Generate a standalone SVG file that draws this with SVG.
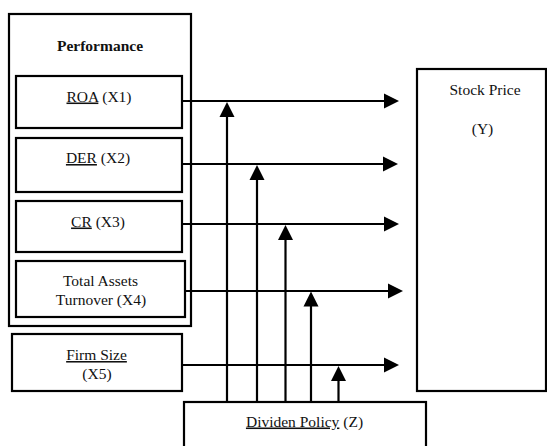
<svg xmlns="http://www.w3.org/2000/svg" width="547" height="446" viewBox="0 0 547 446" font-family="Liberation Serif, serif">
  <defs>
    <style>
      .box { fill: #fff; stroke: #000; stroke-width: 2.2; }
      .lbl { font-size: 15.5px; fill: #111; text-anchor: middle; }
      .bold { font-weight: bold; }
      .u { text-decoration: underline; }
      .wire { fill: none; stroke: #000; stroke-width: 2.2; }
      .head { fill: #000; }
    </style>
  </defs>
  <rect width="547" height="446" fill="#fff"/>

  <g id="performance">
    <rect class="box" x="9" y="14" width="182" height="312"/>
    <text class="lbl bold" x="100" y="50.5">Performance</text>
  </g>

  <g id="roa">
    <rect class="box" x="16" y="76" width="166" height="52"/>
    <text class="lbl" x="99" y="101.5"><tspan class="u"> ROA</tspan> (X1)</text>
  </g>

  <g id="der">
    <rect class="box" x="16" y="138" width="166" height="54"/>
    <text class="lbl" x="98" y="163"><tspan class="u">DER</tspan> (X2)</text>
  </g>

  <g id="cr">
    <rect class="box" x="16" y="201" width="166" height="51"/>
    <text class="lbl" x="98" y="226.5"><tspan class="u">CR</tspan> (X3)</text>
  </g>

  <g id="tat">
    <rect class="box" x="16" y="261" width="169" height="56"/>
    <text class="lbl" x="100.5" y="285.5">Total Assets</text>
    <text class="lbl" x="101" y="305">Turnover (X4)</text>
  </g>

  <g id="firm-size">
    <rect class="box" x="12" y="334" width="170" height="57"/>
    <text class="lbl" x="96.5" y="360"><tspan class="u">Firm Size</tspan></text>
    <text class="lbl" x="97" y="378.5">(X5)</text>
  </g>

  <g id="stock-price">
    <rect class="box" x="417" y="69" width="129" height="322"/>
    <text class="lbl" x="485" y="95">Stock Price</text>
    <text class="lbl" x="482.5" y="134">(Y)</text>
  </g>

  <g id="dividend-policy">
    <rect class="box" x="184" y="402" width="242" height="60"/>
    <text class="lbl" x="304.5" y="426.5"><tspan class="u">Dividen Policy</tspan> (Z)</text>
  </g>

  <g id="connectors">
    <!-- horizontal paths to Stock Price -->
    <path class="wire" d="M182 101 H385 M182 164 H384 M182 224 H385 M185 291 H389 M182 365 H385"/>
    <path class="head" d="M384 93.5 L399 101 L384 108.5 Z"/>
    <path class="head" d="M383 156.5 L398 164 L383 171.5 Z"/>
    <path class="head" d="M384 216.5 L399 224 L384 231.5 Z"/>
    <path class="head" d="M388 283.5 L403 291 L388 298.5 Z"/>
    <path class="head" d="M384 357.5 L399 365 L384 372.5 Z"/>
    <!-- moderating paths from Dividen Policy -->
    <path class="wire" d="M227 402 V115 M257 402 V178 M285.5 402 V238 M311 402 V304 M338.5 402 V379"/>
    <path class="head" d="M219.5 117 L227 102 L234.5 117 Z"/>
    <path class="head" d="M249.5 180 L257 165 L264.5 180 Z"/>
    <path class="head" d="M278 240 L285.5 225 L293 240 Z"/>
    <path class="head" d="M303.5 306.5 L311 291.5 L318.5 306.5 Z"/>
    <path class="head" d="M331 381 L338.5 366 L346 381 Z"/>
  </g>
</svg>
